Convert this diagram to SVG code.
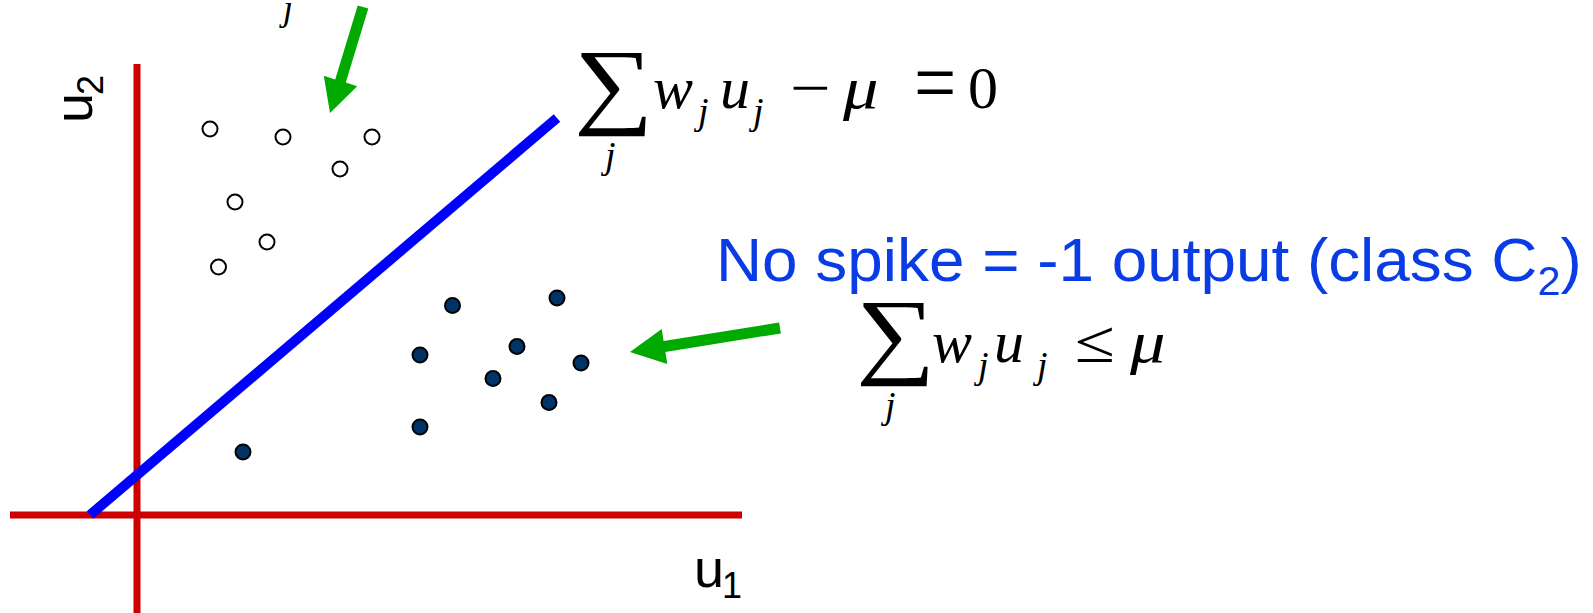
<svg xmlns="http://www.w3.org/2000/svg" width="1593" height="613" viewBox="0 0 1593 613">
<style>
.axis{stroke:#CC0000;stroke-width:7;fill:none}
.sep{stroke:#0000FF;stroke-width:10;fill:none}
.arrow{fill:#00AA00}
.open{fill:#FFFFFF;stroke:#000000;stroke-width:2}
.full{fill:#003366;stroke:#000000;stroke-width:2}
.lbl{font-family:"Liberation Sans",Arial,sans-serif;fill:#000000}
.m{font-family:"Liberation Serif","Times New Roman",serif;fill:#000000}
.mi{font-family:"Liberation Serif","Times New Roman",serif;font-style:italic;fill:#000000}
.sig{font-family:"Liberation Serif","Times New Roman",serif;fill:#000000;font-size:96px}
.blue{font-family:"Liberation Sans",Arial,sans-serif;fill:#0A3CE6;font-size:62px}
</style>
<rect width="1593" height="613" fill="#FFFFFF"/>
<g id="axes">
<line class="axis" x1="10" y1="515" x2="742" y2="515"/>
<line class="axis" x1="137" y1="64" x2="137" y2="613"/>
<text class="lbl" x="694" y="587" font-size="54">u<tspan font-size="36" dx="-2" dy="11">1</tspan></text>
<text class="lbl" transform="translate(92,123) rotate(-90)" font-size="54">u<tspan font-size="36" dx="-2" dy="11">2</tspan></text>
</g>
<g id="separator">
<line class="sep" x1="90" y1="515" x2="557" y2="118"/>
</g>
<g id="class-open">
<circle class="open" cx="210" cy="129" r="7.5"/>
<circle class="open" cx="283" cy="137" r="7.5"/>
<circle class="open" cx="372" cy="137" r="7.5"/>
<circle class="open" cx="340" cy="169" r="7.5"/>
<circle class="open" cx="235" cy="202" r="7.5"/>
<circle class="open" cx="267" cy="242" r="7.5"/>
<circle class="open" cx="218.5" cy="267" r="7.5"/>
</g>
<g id="class-filled">
<circle class="full" cx="452.5" cy="305.5" r="7.5"/>
<circle class="full" cx="557" cy="298" r="7.5"/>
<circle class="full" cx="420" cy="355" r="7.5"/>
<circle class="full" cx="517" cy="346.5" r="7.5"/>
<circle class="full" cx="581" cy="363" r="7.5"/>
<circle class="full" cx="493" cy="378.5" r="7.5"/>
<circle class="full" cx="549" cy="402.5" r="7.5"/>
<circle class="full" cx="420" cy="427" r="7.5"/>
<circle class="full" cx="243" cy="452" r="7.5"/>
</g>
<g id="connectors">
<polygon class="arrow" points="357.7,5.4 368.3,8.6 345.8,82.6 357.2,86.2 330,113 323.8,75.8 335.2,79.4"/>
<polygon class="arrow" points="779.1,322.6 780.9,333.4 665.4,351.9 667.3,364 630,352 661.7,329 663.6,341.1"/>
</g>
<g id="formula-top">
<text class="mi" x="283" y="20" font-size="36">j</text>
</g>
<g id="formula-boundary">
<text class="sig" transform="translate(574.3,116) scale(1.16,1)">∑</text>
<text class="mi" x="605" y="168" font-size="38">j</text>
<text class="mi" x="653" y="108" font-size="60">w</text>
<text class="mi" x="698" y="124" font-size="38">j</text>
<text class="mi" x="720" y="108" font-size="60">u</text>
<text class="mi" x="753" y="124" font-size="38">j</text>
<text class="m" transform="translate(790,108) scale(1.2,1)" font-size="60">−</text>
<text class="mi" transform="translate(843,108) scale(1.18,1)" font-size="60">μ</text>
<text class="m" transform="translate(914,112) scale(1.25,1.48)" font-size="60">=</text>
<text class="m" x="968" y="108" font-size="60">0</text>
</g>
<g id="label-class2">
<text class="blue" transform="translate(716,281) scale(1.03,1)">No spike = -1 output (class C<tspan font-size="40" dy="14">2</tspan><tspan dy="-14">)</tspan></text>
</g>
<g id="formula-class2">
<text class="sig" transform="translate(856.3,366) scale(1.16,1)">∑</text>
<text class="mi" x="885" y="418" font-size="38">j</text>
<text class="mi" x="932" y="362" font-size="60">w</text>
<text class="mi" x="978" y="378" font-size="38">j</text>
<text class="mi" x="994" y="362" font-size="60">u</text>
<text class="mi" x="1037" y="378" font-size="38">j</text>
<text class="m" transform="translate(1075,362) scale(1.22,1)" font-size="60">≤</text>
<text class="mi" transform="translate(1130,362) scale(1.18,1)" font-size="60">μ</text>
</g>
</svg>
